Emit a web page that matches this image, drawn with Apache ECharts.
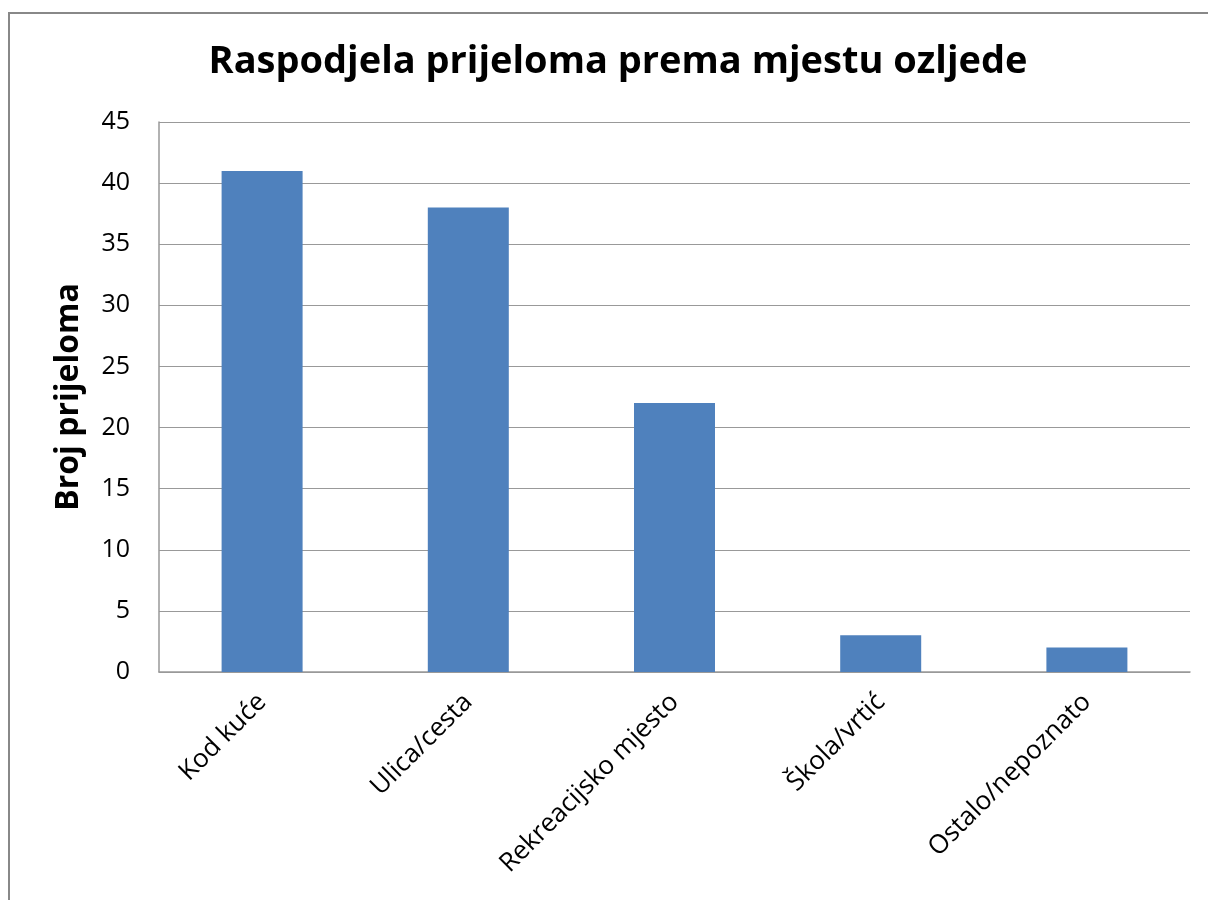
<!DOCTYPE html>
<html>
<head>
<meta charset="utf-8">
<script src="https://cdn.jsdelivr.net/npm/echarts@6/dist/echarts.min.js"></script>
<style>
  html, body { margin: 0; padding: 0; background: #fff; }
  #chart { width: 1208px; height: 900px; }
</style>
</head>
<body>
<div id="chart"></div>
<script>
// podaci
var categories = ['Kod kuće', 'Ulica/cesta', 'Rekreacijsko mjesto', 'Škola/vrtić', 'Ostalo/nepoznato'];
var values = [41, 38, 22, 3, 2];
var yTicks = [0, 5, 10, 15, 20, 25, 30, 35, 40, 45];

var font = '"Open Sans", "Liberation Sans", sans-serif';
var myChart = echarts.init(document.getElementById('chart'));

var option = {
    backgroundColor: '#fff',
    animation: false,
    title: {
        text: 'Raspodjela prijeloma prema mjestu ozljede',
        left: 613,
        textAlign: 'center',
        top: 38,
        textStyle: { fontFamily: font, fontSize: 38, fontWeight: 'bold', color: '#000' }
    },
    graphic: [{
        type: 'rect',
        shape: { x: 9, y: 13, width: 1220, height: 920 },
        style: { fill: 'none', stroke: '#888', lineWidth: 2 },
        silent: true
    }],
    grid: { left: 159, right: 18, top: 122, bottom: 228 },
    xAxis: {
        type: 'category',
        data: categories,
        axisLine: { lineStyle: { color: '#999', width: 1.5 } },
        axisTick: { show: false },
        axisLabel: {
            rotate: 45,
            margin: 26,
            fontFamily: font,
            fontSize: 26,
            color: '#000'
        }
    },
    yAxis: {
        type: 'value',
        min: yTicks[0],
        max: yTicks[yTicks.length - 1],
        interval: 5,
        name: 'Broj prijeloma',
        nameLocation: 'middle',
        nameGap: 74,
        nameTextStyle: { fontFamily: font, fontSize: 32, fontWeight: 'bold', color: '#000' },
        axisLine: { show: true, lineStyle: { color: '#999', width: 1.5 } },
        axisTick: { show: false },
        axisLabel: { margin: 29, fontFamily: font, fontSize: 25, color: '#000' },
        splitLine: { lineStyle: { color: '#999', width: 1.2 } }
    },
    series: [{
        type: 'bar',
        data: values,
        barWidth: 81,
        itemStyle: { color: '#4F81BD' }
    }]
};
myChart.setOption(option);
</script>
</body>
</html>
